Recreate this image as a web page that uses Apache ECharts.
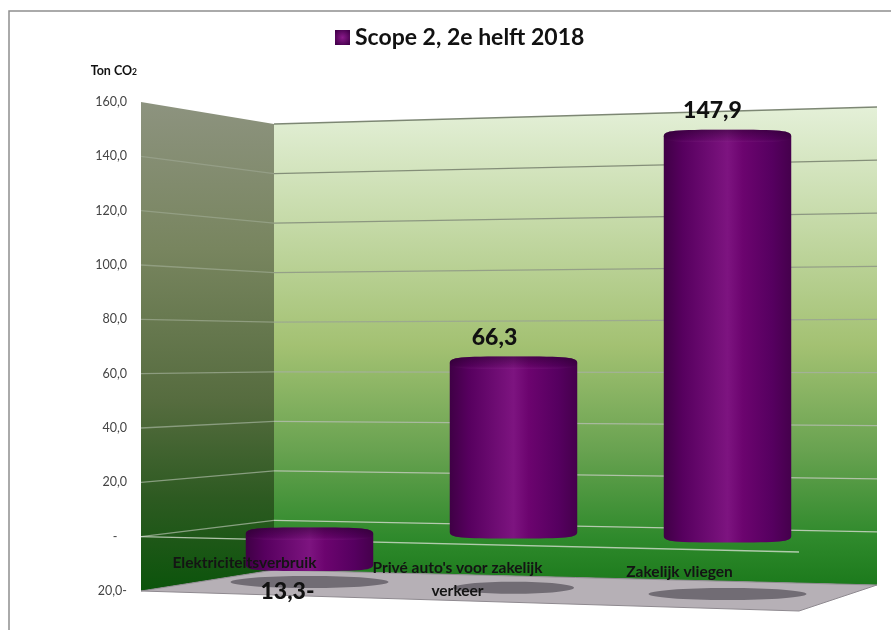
<!DOCTYPE html>
<html>
<head>
<meta charset="utf-8">
<title>Scope 2, 2e helft 2018</title>
<style>
  html, body { margin: 0; padding: 0; background: #fff; }
  #main { width: 891px; height: 630px; }
</style>
</head>
<body>
<div id="main"></div>
<script src="https://cdn.jsdelivr.net/npm/echarts@6/dist/echarts.min.js"></script>
<script>
const seriesName = "Scope 2, 2e helft 2018";
const categories = ["Elektriciteitsverbruik", "Privé auto's voor zakelijk\nverkeer", "Zakelijk vliegen"];
const barValues = [-13.3, 66.3, 147.9];
const gridTicks = [160, 140, 120, 100, 80, 60, 40, 20, 0];

const FONT = "Lato, 'Noto Sans', sans-serif";

// frame corners of the 3d box, floor y and wall height at each vertical edge
const BACK_LEFT = { x: 274, floor: 570, h: 446 };
const BACK_RIGHT = { x: 877, floor: 585, h: 478 };
const FRONT_RIGHT = { x: 799, floor: 611, h: 531 };

// the picture is not a clean projection, per bar corrections
const barShiftX = [0, -5, 0];
const barShiftY = [0, -2, 2];
const barStretch = [0.9, 1, 1.06];
const labelShiftX = [-65, -61, -48];
const valueShiftX = [-22, -19, -15];

const lerp = (a, b, t) => a + (b - a) * t;
const fmt = (v) => Math.abs(v).toFixed(1).replace(".", ",") + (v < 0 ? "-" : "");

const chart = echarts.init(document.getElementById("main"));

function renderWalls(params, api) {
  const front = (v) => api.coord([0, v]);
  const bottom = front(-20);
  const height = bottom[1] - front(160)[1];
  const frontLeftX = bottom[0];
  const frac = (v) => (bottom[1] - front(v)[1]) / height;
  const backL = (v) => [BACK_LEFT.x, BACK_LEFT.floor - frac(v) * BACK_LEFT.h];
  const backR = (v) => [BACK_RIGHT.x, BACK_RIGHT.floor - frac(v) * BACK_RIGHT.h];
  const frontR = (v) => [FRONT_RIGHT.x, FRONT_RIGHT.floor - frac(v) * FRONT_RIGHT.h];

  const children = [
    {
      type: "polygon",
      shape: { points: [front(160), backL(160), backL(-20), front(-20)] },
      style: {
        fill: {
          type: "linear", x: 0, y: 0, x2: 0, y2: 1,
          colorStops: [
            { offset: 0, color: "#8d937f" },
            { offset: 0.3, color: "#78855f" },
            { offset: 0.61, color: "#566c3f" },
            { offset: 0.81, color: "#2d5a21" },
            { offset: 1, color: "#0b540b" },
          ],
        },
      },
    },
    {
      type: "polygon",
      shape: { points: [backL(160), backR(160), backR(-20), backL(-20)] },
      style: {
        fill: {
          type: "linear", x: 0, y: 0, x2: 0, y2: 1,
          colorStops: [
            { offset: 0, color: "#e4f0d8" },
            { offset: 0.25, color: "#c4d9a6" },
            { offset: 0.5, color: "#a3c172" },
            { offset: 0.72, color: "#68a250" },
            { offset: 0.9, color: "#2f8a2c" },
            { offset: 1, color: "#1c7a1c" },
          ],
        },
      },
    },
    {
      type: "polygon",
      shape: { points: [front(-20), backL(-20), backR(-20), frontR(-20)] },
      style: { fill: "#b6b0b6", stroke: "#8f8a90", lineWidth: 1 },
    },
  ];

  gridTicks.forEach((v) => {
    const t = frac(v);
    const rgb = `${Math.round(lerp(215, 105, t))},${Math.round(lerp(225, 115, t))},${Math.round(lerp(210, 95, t))}`;
    children.push({
      type: "line",
      shape: { x1: backL(v)[0], y1: backL(v)[1], x2: backR(v)[0], y2: backR(v)[1] },
      style: { stroke: `rgba(${rgb},0.85)`, lineWidth: 1.3 },
    });
    if (v !== 160) {
      children.push({
        type: "line",
        shape: { x1: front(v)[0], y1: front(v)[1], x2: backL(v)[0], y2: backL(v)[1] },
        style: { stroke: `rgba(190,200,185,${lerp(0.7, 0.25, t)})`, lineWidth: 1.3 },
      });
    }
  });
  // front edge of the zero plane
  children.push({
    type: "line",
    shape: { x1: frontLeftX, y1: front(0)[1], x2: frontR(0)[0], y2: frontR(0)[1] },
    style: { stroke: "rgba(210,220,205,0.8)", lineWidth: 1.3 },
  });

  return { type: "group", children };
}

function bodyFill() {
  return {
    type: "linear", x: 0, y: 0, x2: 1, y2: 0,
    colorStops: [
      { offset: 0, color: "#3f0045" },
      { offset: 0.15, color: "#57005f" },
      { offset: 0.5, color: "#7d1480" },
      { offset: 0.62, color: "#6c046f" },
      { offset: 0.85, color: "#560060" },
      { offset: 1, color: "#45004c" },
    ],
  };
}

// squarer than an ellipse, the reference has soft rounded shoulders
function archTop(cx, y, rx, ry) {
  return `M${cx - rx} ${y}C${cx - rx} ${y - 0.9 * ry} ${cx - 0.85 * rx} ${y - ry} ${cx} ${y - ry}` +
    `C${cx + 0.85 * rx} ${y - ry} ${cx + rx} ${y - 0.9 * ry} ${cx + rx} ${y}`;
}
function archBottom(cx, y, rx, ry) {
  return `L${cx + rx} ${y}C${cx + rx} ${y + 0.9 * ry} ${cx + 0.85 * rx} ${y + ry} ${cx} ${y + ry}` +
    `C${cx - 0.85 * rx} ${y + ry} ${cx - rx} ${y + 0.9 * ry} ${cx - rx} ${y}Z`;
}

function renderBar(params, api) {
  const i = params.dataIndex;
  const value = api.value(1);
  const base = api.coord([api.value(0), 0]);
  const tip = api.coord([api.value(0), value]);
  const cx = base[0] + barShiftX[i];
  const y0 = base[1] + barShiftY[i];
  const y1 = y0 - (base[1] - tip[1]) * barStretch[i];
  const rx = api.size([1, 0])[0] * 0.305;
  const ry = 6.5;
  const top = Math.min(y0, y1);
  const bot = Math.max(y0, y1);
  // floor shadow follows the slope of the floor
  const shadowY = 582 + (cx - 310) * 0.0288;
  const shadowRx = rx * (i === 1 ? 0.95 : 1.24);

  return {
    type: "group",
    children: [
      {
        type: "ellipse",
        shape: { cx, cy: shadowY, rx: shadowRx, ry: 6 },
        style: { fill: "#716c74" },
      },
      {
        type: "path",
        shape: { pathData: archTop(cx, top, rx, ry) + archBottom(cx, bot, rx, ry) },
        style: { fill: bodyFill() },
      },
      {
        type: "path",
        shape: { pathData: archTop(cx, top, rx, ry) + archBottom(cx, top, rx, ry * 0.9) },
        style: {
          fill: {
            type: "linear", x: 0, y: 0, x2: 0, y2: 1,
            colorStops: [
              { offset: 0, color: "rgba(30,0,35,0.45)" },
              { offset: 0.75, color: "rgba(30,0,35,0.1)" },
              { offset: 1, color: "rgba(160,60,160,0.18)" },
            ],
          },
        },
      },
    ],
  };
}

function renderTexts(params, api) {
  const i = params.dataIndex;
  const value = api.value(1);
  const base = api.coord([api.value(0), 0]);
  const tip = api.coord([api.value(0), value]);
  const cx = base[0] + barShiftX[i];
  const y0 = base[1] + barShiftY[i];
  const y1 = y0 - (base[1] - tip[1]) * barStretch[i];
  const labelX = base[0] + labelShiftX[i];
  const labelY = 538 + (labelX - 141) * 0.0213 + 23 - 11.5;

  return {
    type: "group",
    children: [
      {
        type: "text",
        x: labelX,
        y: labelY,
        style: {
          text: categories[i],
          font: "bold 15.5px " + FONT,
          fill: "#141414",
          align: "center",
          verticalAlign: "top",
          lineHeight: 23,
        },
      },
      {
        type: "text",
        x: cx + valueShiftX[i],
        y: value < 0 ? y1 + 27 : y1 - 25.5,
        style: {
          text: fmt(value),
          font: "900 23px " + FONT,
          fill: "#111",
          align: "center",
          verticalAlign: "middle",
        },
      },
    ],
  };
}

const option = {
  animation: false,
  backgroundColor: "#fff",
  textStyle: { fontFamily: FONT },
  graphic: [
    {
      type: "rect",
      shape: { x: 9, y: 11, width: 1000, height: 800 },
      style: { fill: "none", stroke: "#8e8e8e", lineWidth: 1.5 },
      silent: true,
    },
  ],
  legend: {
    left: 330,
    top: 21,
    icon: "rect",
    itemWidth: 15,
    itemHeight: 15,
    itemGap: 6,
    selectedMode: false,
    data: [seriesName],
    textStyle: { fontFamily: FONT, fontSize: 23, fontWeight: "bold", color: "#111" },
  },
  grid: [
    { left: 141, right: 92, top: 102, bottom: 39 },
    { left: 205, width: 627, top: 126, height: 459 },
  ],
  xAxis: [
    { gridIndex: 0, type: "value", min: 0, max: 1, show: false },
    { gridIndex: 1, type: "category", data: categories, show: false },
  ],
  yAxis: [
    {
      gridIndex: 0,
      type: "value",
      min: -20,
      max: 160,
      interval: 20,
      name: "{a|Ton CO}{b|2}",
      nameLocation: "end",
      nameGap: 25,
      nameTextStyle: {
        align: "right",
        padding: [0, 4, 0, 0],
        rich: {
          a: { fontFamily: FONT, fontSize: 12.5, fontWeight: "bold", color: "#111" },
          b: { fontFamily: FONT, fontSize: 8.5, fontWeight: "bold", color: "#111", verticalAlign: "bottom" },
        },
      },
      axisLine: { show: false },
      axisTick: { show: false },
      splitLine: { show: false },
      axisLabel: {
        margin: 14,
        fontSize: 12.5,
        color: "#444",
        formatter: (v) => (v === 0 ? "-   " : fmt(v)),
      },
    },
    { gridIndex: 1, type: "value", min: -20, max: 160, interval: 20, show: false },
  ],
  series: [
    {
      type: "custom",
      name: "walls",
      xAxisIndex: 0,
      yAxisIndex: 0,
      z: 1,
      silent: true,
      renderItem: renderWalls,
      data: [[0, 0]],
    },
    {
      type: "custom",
      name: seriesName,
      xAxisIndex: 1,
      yAxisIndex: 1,
      z: 2,
      itemStyle: {
        color: {
          type: "radial", x: 0.5, y: 0.5, r: 0.6,
          colorStops: [
            { offset: 0, color: "#8a1a8a" },
            { offset: 1, color: "#45004c" },
          ],
        },
      },
      renderItem: renderBar,
      data: barValues.map((v, i) => [i, v]),
    },
    {
      type: "custom",
      name: "labels",
      xAxisIndex: 1,
      yAxisIndex: 1,
      z: 3,
      silent: true,
      renderItem: renderTexts,
      data: barValues.map((v, i) => [i, v]),
    },
  ],
};

chart.setOption(option);
</script>
</body>
</html>
